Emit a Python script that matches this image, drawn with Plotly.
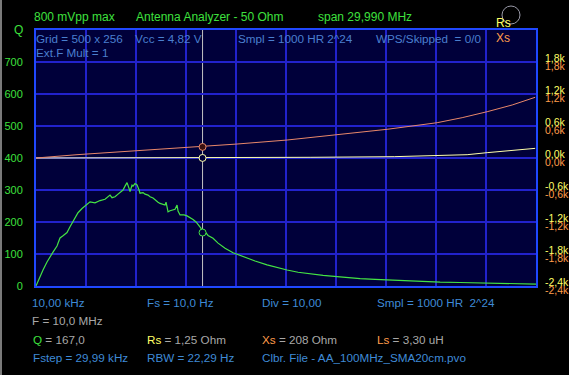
import plotly.graph_objects as go

# ---------------- data ----------------
q_freq_mhz = [0.01, 0.13, 0.25, 0.43, 0.67, 0.85, 1.03, 1.27, 1.45, 1.63, 1.87, 2.05, 2.23, 2.53,
              2.77, 2.95, 3.25, 3.55, 3.85, 4.15, 4.33, 4.45, 4.57, 4.75, 4.93, 5.05, 5.23, 5.35,
              5.47, 5.59, 5.65, 5.77, 5.83, 5.95, 6.07, 6.19, 6.25, 6.43, 6.55, 6.73, 6.85, 7.03,
              7.15, 7.33, 7.45, 7.63, 7.75, 7.81, 7.93, 8.05, 8.23, 8.35, 8.47, 8.53, 8.65, 8.89,
              9.07, 9.25, 9.43, 9.61, 9.73, 9.91, 10.0, 10.15, 10.33, 10.63, 10.93, 11.35, 11.83,
              12.43, 13.15, 13.87, 14.47, 15.07, 15.73, 16.45, 17.23, 18.07, 18.85, 19.45, 20.35,
              21.07, 21.85, 22.87, 23.65, 24.25, 25.45, 27.07, 27.85, 28.45, 29.17, 30.0]
q_values = [0, 15, 30, 50, 75, 92, 106, 125, 150, 157, 167, 185, 201, 229,
            242, 250, 263, 260, 267, 271, 278, 284, 276, 279, 287, 292, 300, 312,
            323, 305, 295, 315, 312, 320, 316, 300, 290, 292, 287, 284, 279, 275,
            269, 262, 258, 254, 253, 262, 232, 235, 237, 240, 253, 234, 222, 222,
            219, 214, 208, 200, 191, 180, 167, 170, 158, 149, 134, 118, 104,
            92, 78, 66, 57, 50, 43, 37.5, 33, 29, 25, 23, 21,
            19, 17, 15, 13, 12, 11, 9.4, 8, 6, 6, 6]

xs_freq_mhz = [0.01, 0.43, 1.45, 2.47, 3.37, 4.33, 5.23, 6.13, 7.27, 10.0, 12.07, 15.07,
               18.07, 21.07, 24.07, 25.57, 27.07, 28.57, 29.95]
xs_ohm = [0, 13, 37, 62, 81, 100, 119, 137, 162, 208, 262, 337,
          431, 538, 662, 756, 868, 994, 1138]

rs_freq_mhz = [0.01, 5.0, 10.0, 15.07, 16.5, 21.5, 24.07, 25.87, 27.07, 28.63, 29.95]
rs_ohm = [0, 1, 1.25, 5, 13, 25, 44, 62, 100, 137, 181]

cursor_freq_mhz = 10.0
cursor_q = 167.0
cursor_rs = 1.25
cursor_xs = 208

q_tickvals = [0, 100, 200, 300, 400, 500, 600, 700]
r_tickvals = [-2400, -1800, -1200, -600, 0, 600, 1200, 1800]
r_ticktext = ["-2,4k", "-1,8k", "-1,2k", "-0,6k", "0,0k", "0,6k", "1,2k", "1,8k"]

# ---------------- style ----------------
FONT = "Liberation Sans"
GREEN = "#3ee03e"
YELLOW = "#ffff66"
ORANGE = "#ff9c4a"
BLUETXT = "#3f8ad6"
INNERTXT = "#4a7fcf"
GRAY = "#a8a8a8"
GRID = "#2222cc"
BORDER = "#2048ff"
PLOTBG = "#00003a"

W, H = 569, 375
L, R, T, B = 36, 536, 30, 286


def px(x):
    return (x - L) / (R - L)


def py(y):
    return (B - y) / (B - T)


fig = go.Figure()

fig.add_trace(go.Scatter(x=xs_freq_mhz, y=xs_ohm, yaxis="y3", mode="lines",
                         line=dict(color="#e8876a", width=1)))
fig.add_trace(go.Scatter(x=rs_freq_mhz, y=rs_ohm, yaxis="y2", mode="lines",
                         line=dict(color="#ffffa8", width=1)))
fig.add_trace(go.Scatter(x=q_freq_mhz, y=q_values, yaxis="y", mode="lines",
                         line=dict(color="#44e444", width=1.2)))

# cursor markers
fig.add_trace(go.Scatter(x=[cursor_freq_mhz], y=[cursor_xs], yaxis="y3", mode="markers",
                         marker=dict(symbol="circle", size=7, color="#3a1010",
                                     line=dict(color="#e8876a", width=1))))
fig.add_trace(go.Scatter(x=[cursor_freq_mhz], y=[cursor_rs], yaxis="y2", mode="markers",
                         marker=dict(symbol="circle", size=7, color=PLOTBG,
                                     line=dict(color="#ffffa8", width=1))))
fig.add_trace(go.Scatter(x=[cursor_freq_mhz], y=[cursor_q], yaxis="y", mode="markers",
                         marker=dict(symbol="circle", size=7, color=PLOTBG,
                                     line=dict(color="#44e444", width=1))))

fig.add_shape(type="line", xref="x", yref="paper", x0=cursor_freq_mhz, x1=cursor_freq_mhz,
              y0=0, y1=1, line=dict(color="#c4c4c4", width=1), layer="below")

# top-right circle and left window border
fig.add_shape(type="circle", xref="paper", yref="paper",
              x0=px(502), x1=px(520), y0=py(24), y1=py(6),
              line=dict(color="#9a9aa8", width=1))
fig.add_shape(type="line", xref="paper", yref="paper", x0=px(1), x1=px(1), y0=py(375), y1=py(0),
              line=dict(color="#7a7a7a", width=2))


def ann(x, y, text, color, size=11.7):
    fig.add_annotation(xref="paper", yref="paper", x=px(x - 3), y=py(y), text=text,
                       showarrow=False, xanchor="left", yanchor="middle",
                       font=dict(family=FONT, size=size, color=color))


# header
ann(35, 17, "800 mVpp max", GREEN, 12)
ann(137, 17, "Antenna Analyzer - 50 Ohm", GREEN, 12)
ann(319, 17, "span 29,990 MHz", GREEN, 12)
ann(15, 30, "Q", GREEN, 12)
ann(497, 23, "Rs", YELLOW, 12)
ann(497, 38, "Xs", ORANGE, 12)

# inner plot texts
ann(37, 38, "Grid = 500 x 256", INNERTXT)
ann(37, 52, "Ext.F Mult = 1", INNERTXT)
ann(136, 38, "Vcc = 4,82 V", INNERTXT)
ann(239, 38, "Smpl = 1000 HR 2^24", INNERTXT)
ann(377, 38, "WPS/Skipped  = 0/0", INNERTXT)

# bottom texts
ann(33, 302, "10,00 kHz", BLUETXT)
ann(148, 302, "Fs = 10,0 Hz", BLUETXT)
ann(263, 302, "Div = 10,00", BLUETXT)
ann(378, 302, "Smpl = 1000 HR  2^24", BLUETXT)
ann(33, 320, "F = 10,0 MHz", GRAY)
ann(34, 339, f"<span style='color:{GREEN}'>Q</span> = 167,0", GRAY)
ann(148, 339, f"<span style='color:{YELLOW}'>Rs</span> = 1,25 Ohm", GRAY)
ann(263, 339, f"<span style='color:{ORANGE}'>Xs</span> = 208 Ohm", GRAY)
ann(378, 339, f"<span style='color:{ORANGE}'>Ls</span> = 3,30 uH", GRAY)
ann(34, 357, "Fstep = 29,99 kHz", BLUETXT)
ann(148, 357, "RBW = 22,29 Hz", BLUETXT)
ann(263, 357, "Clbr. File - AA_100MHz_SMA20cm.pvo", BLUETXT)

fig.update_layout(
    width=W, height=H,
    margin=dict(l=L, r=W - R, t=T, b=H - B, pad=0, autoexpand=False),
    paper_bgcolor="black", plot_bgcolor=PLOTBG,
    showlegend=False,
    font=dict(family=FONT, size=11),
    xaxis=dict(range=[0.01, 30.0], tick0=0.01, dtick=2.999, showgrid=True, gridcolor=GRID,
               gridwidth=1.5, showticklabels=False, ticks="", zeroline=False, automargin=False,
               showline=True, linecolor=BORDER, linewidth=2, mirror=True, fixedrange=True),
    yaxis=dict(range=[0, 800], tickvals=q_tickvals, showgrid=True, gridcolor=GRID, gridwidth=1.5,
               tickfont=dict(family=FONT, size=11, color=GREEN), ticks="", zeroline=False,
               showline=True, linecolor=BORDER, linewidth=2, mirror=True, automargin=False,
               ticklabelstandoff=9),
    yaxis2=dict(range=[-2400, 2400], overlaying="y", side="right", tickvals=r_tickvals,
                ticktext=r_ticktext, showgrid=False, zeroline=False, ticks="", automargin=False,
                tickfont=dict(family=FONT, size=10.5, color=YELLOW), ticklabelshift=-4,
                ticklabelstandoff=8),
    yaxis3=dict(range=[-2400, 2400], overlaying="y", side="right", tickvals=r_tickvals,
                ticktext=r_ticktext, showgrid=False, zeroline=False, ticks="", automargin=False,
                tickfont=dict(family=FONT, size=10.5, color=ORANGE), ticklabelshift=4,
                ticklabelstandoff=8),
)

fig.write_html(
    "out.html",
    config={"displayModeBar": False},
    post_script="document.body.style.margin='0';document.body.style.background='black';",
)
